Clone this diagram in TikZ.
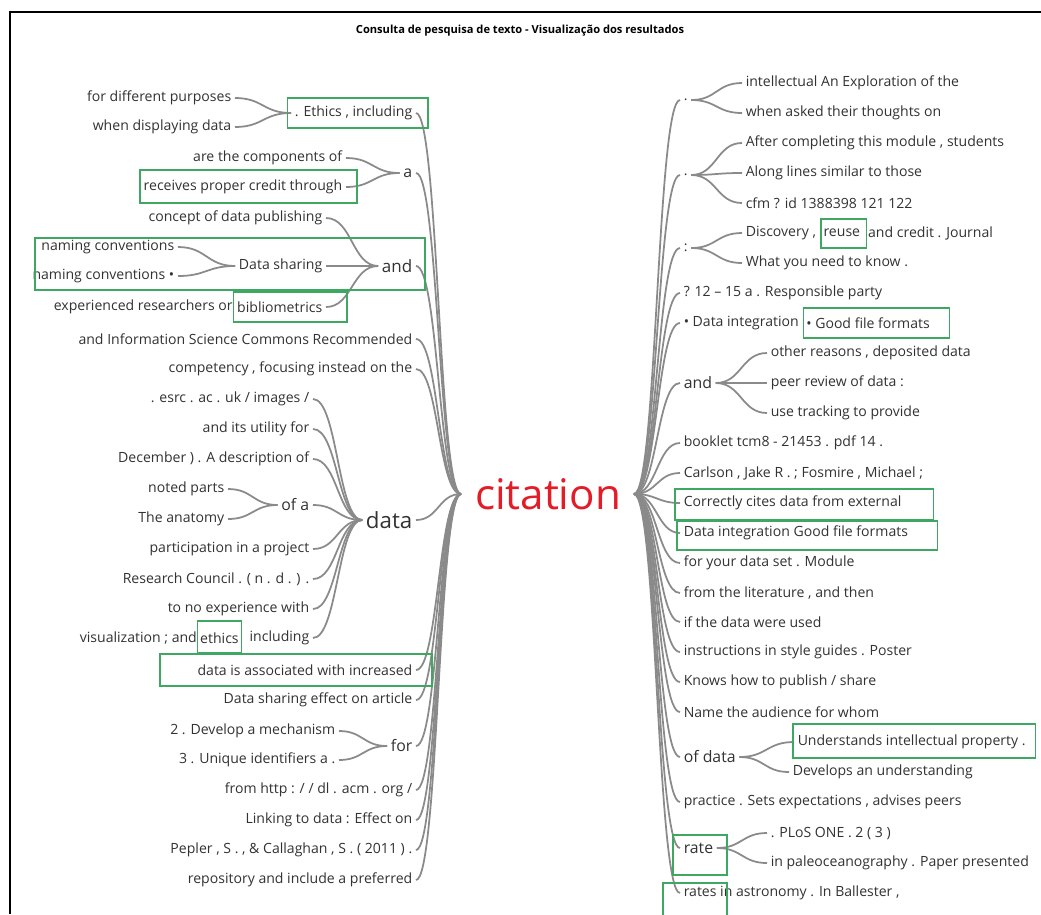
\documentclass[tikz,border=0pt]{standalone}
\usepackage{fontspec}
\setmainfont{Open Sans}
\usepackage{xcolor}
\usepackage{tikz}
\usetikzlibrary{calc, positioning}

\definecolor{hlgreen}{RGB}{62,168,98}
\definecolor{wordgray}{RGB}{50,50,50}
\definecolor{twiggray}{RGB}{138,138,138}
\definecolor{citered}{RGB}{228,28,40}

\begin{document}
\begin{tikzpicture}[x=0.03cm, y=-0.03cm,
    wl/.style={anchor=east, font=\fontsize{12}{14}\selectfont, text=wordgray, inner xsep=3pt, inner ysep=1pt},
    wr/.style={anchor=west, font=\fontsize{12}{14}\selectfont, text=wordgray, inner xsep=3pt, inner ysep=1pt},
    mid/.style={font=\fontsize{13.5}{16}\selectfont},
    twig/.style={draw=twiggray, line width=1.5pt, to path={let \p1=(\tikztostart), \p2=(\tikztotarget) in .. controls ({(\x1+\x2)/2},\y1) and ({(\x1+\x2)/2},\y2) .. (\tikztotarget)}},
    hl/.style={draw=hlgreen, line width=1pt}
]
    \useasboundingbox (0,0) rectangle (1041,914);
    \draw[line width=1.2pt] (10,914) -- (10,12) -- (1041,12);

    \node[font=\fontsize{9.5}{11}\selectfont\bfseries, text=black] (title) at (520,31) {Consulta de pesquisa de texto - Visualização dos resultados};

    % Centre word and the two hubs
    \node[font=\fontsize{36}{40}\selectfont, text=citered, inner sep=0pt] (citation) at (548,494) {citation};
    \coordinate (hubL) at (461,494);
    \coordinate (hubR) at (634,494);

    % Left side
    \node[wl] (purposes) at (235,98) {for different purposes};
    \node[wl] (displaying) at (235,127) {when displaying data};
    \node[wl] (ethicsinc) at (416,113) {. Ethics , including};
    \node[wl] (components) at (346,158) {are the components of};
    \node[wl] (credit) at (346,187) {receives proper credit through};
    \node[wl, mid] (la) at (416,173) {a};
    \node[wl] (publishing) at (326,218) {concept of data publishing};
    \node[wl] (naming1) at (178,247) {naming conventions};
    \node[wl] (sharing) at (326,266) {Data sharing};
    \node[wl] (naming2) at (178,276) {naming conventions •};
    \node[wl, font=\fontsize{14.5}{17}\selectfont] (land) at (416,266) {and};
    \node[wl] (biblio) at (326,307) {bibliometrics};
    \node[wl, inner xsep=0.5pt, left=0pt of biblio] (researchers) {experienced researchers or};
    \node[wl] (infosci) at (416,339) {and Information Science Commons Recommended};
    \node[wl] (compet) at (416,369) {competency , focusing instead on the};
    \node[wl] (esrc) at (313,399) {. esrc . ac . uk / images /};
    \node[wl] (utility) at (313,429) {and its utility for};
    \node[wl] (december) at (313,459) {December ) . A description of};
    \node[wl] (noted) at (228,489) {noted parts};
    \node[wl, mid] (ofa) at (313,505) {of a};
    \node[wl] (anatomy) at (228,519) {The anatomy};
    \node[wl, font=\fontsize{19}{22}\selectfont] (ldata) at (416,520) {data};
    \node[wl] (particip) at (313,549) {participation in a project};
    \node[wl] (council) at (313,579) {Research Council . ( n . d . ) .};
    \node[wl] (noexp) at (313,609) {to no experience with};
    \node[wl] (including) at (313,638) {including};
    \node[wl, inner xsep=2pt, left=4pt of including] (ethicsw) {ethics};
    \node[wl, inner xsep=0.5pt, left=0pt of ethicsw] (visual) {visualization ; and};
    \node[wl] (assoc) at (416,670) {data is associated with increased};
    \node[wl] (effect) at (416,700) {Data sharing effect on article};
    \node[wl] (develop) at (339,731) {2 . Develop a mechanism};
    \node[wl, mid] (lfor) at (416,746) {for};
    \node[wl] (unique) at (339,760) {3 . Unique identifiers a .};
    \node[wl] (http) at (416,790) {from http : / / dl . acm . org /};
    \node[wl] (linking) at (416,820) {Linking to data : Effect on};
    \node[wl] (pepler) at (416,850) {Pepler , S . , \& Callaghan , S . ( 2011 ) .};
    \node[wl] (repos) at (416,880) {repository and include a preferred};

    % Right side
    \node[wr] (dot1) at (680,100) {.};
    \node[wr] (explor) at (742,83) {intellectual An Exploration of the};
    \node[wr] (asked) at (742,113) {when asked their thoughts on};
    \node[wr] (dot2) at (680,175) {.};
    \node[wr] (after) at (742,143) {After completing this module , students};
    \node[wr] (along) at (742,173) {Along lines similar to those};
    \node[wr] (cfm) at (742,203) {cfm ? id 1388398 121 122};
    \node[wr] (colon) at (680,248) {:};
    \node[wr] (discov) at (742,233) {Discovery ,};
    \node[wr, inner xsep=2pt, right=1pt of discov] (reuse) {reuse};
    \node[wr, inner xsep=0.5pt, right=4pt of reuse] (journal) {and credit . Journal};
    \node[wr] (needknow) at (742,263) {What you need to know .};
    \node[wr] (party) at (680,293) {? 12 – 15 a . Responsible party};
    \node[wr] (integr) at (680,323) {• Data integration};
    \node[wr, inner xsep=2pt, right=1pt of integr] (goodfile) {• Good file formats};
    \node[wr, mid] (rand) at (680,383) {and};
    \node[wr] (reasons) at (767,353) {other reasons , deposited data};
    \node[wr] (review) at (767,383) {peer review of data :};
    \node[wr] (tracking) at (767,413) {use tracking to provide};
    \node[wr] (booklet) at (680,443) {booklet tcm8 - 21453 . pdf 14 .};
    \node[wr] (carlson) at (680,473) {Carlson , Jake R . ; Fosmire , Michael ;};
    \node[wr] (correctly) at (680,503) {Correctly cites data from external};
    \node[wr] (dataint) at (680,533) {Data integration Good file formats};
    \node[wr] (yourdata) at (680,563) {for your data set . Module};
    \node[wr] (literature) at (680,593) {from the literature , and then};
    \node[wr] (used) at (680,622) {if the data were used};
    \node[wr] (instr) at (680,652) {instructions in style guides . Poster};
    \node[wr] (knows) at (680,682) {Knows how to publish / share};
    \node[wr] (audience) at (680,712) {Name the audience for whom};
    \node[wr, mid] (ofdata) at (680,757) {of data};
    \node[wr] (underst) at (794,742) {Understands intellectual property .};
    \node[wr] (develops) at (789,772) {Develops an understanding};
    \node[wr] (practice) at (680,802) {practice . Sets expectations , advises peers};
    \node[wr, mid] (rate) at (680,848) {rate};
    \node[wr] (plos) at (767,833) {. PLoS ONE . 2 ( 3 )};
    \node[wr] (paleo) at (767,863) {in paleoceanography . Paper presented};
    \node[wr] (rates) at (680,893) {rates in astronomy . In Ballester ,};

    % Branches
    \foreach \w in {ethicsinc, la, land, infosci, compet, ldata, assoc, effect, lfor, http, linking, pepler, repos}
        \draw[twig] (hubL) to (\w.east);
    \foreach \w in {purposes, displaying} \draw[twig] (ethicsinc.west) to (\w.east);
    \foreach \w in {components, credit} \draw[twig] (la.west) to (\w.east);
    \foreach \w in {publishing, sharing, biblio} \draw[twig] (land.west) to (\w.east);
    \foreach \w in {naming1, naming2} \draw[twig] (sharing.west) to (\w.east);
    \foreach \w in {esrc, utility, december, ofa, particip, council, noexp, including} \draw[twig] (ldata.west) to (\w.east);
    \foreach \w in {noted, anatomy} \draw[twig] (ofa.west) to (\w.east);
    \foreach \w in {develop, unique} \draw[twig] (lfor.west) to (\w.east);

    \foreach \w in {dot1, dot2, colon, party, integr, rand, booklet, carlson, correctly, dataint, yourdata, literature, used, instr, knows, audience, ofdata, practice, rate, rates}
        \draw[twig] (hubR) to (\w.west);
    \foreach \w in {explor, asked} \draw[twig] (dot1.east) to (\w.west);
    \foreach \w in {after, along, cfm} \draw[twig] (dot2.east) to (\w.west);
    \foreach \w in {discov, needknow} \draw[twig] (colon.east) to (\w.west);
    \foreach \w in {reasons, review, tracking} \draw[twig] (rand.east) to (\w.west);
    \foreach \w in {underst, develops} \draw[twig] (ofdata.east) to (\w.west);
    \foreach \w in {plos, paleo} \draw[twig] (rate.east) to (\w.west);

    % Green highlight boxes
    \draw[hl] ($(ethicsinc.west |- 0,98)+(-4,0)$) rectangle (428,128);
    \draw[hl] (credit.west |- 0,170) rectangle (357,203);
    \draw[hl] (35,238) rectangle (425,290);
    \draw[hl] (biblio.west |- 0,292) rectangle (347,322);
    \draw[hl] (ethicsw.west |- 0,621) rectangle (ethicsw.east |- 0,653);
    \draw[hl] (160,654) rectangle (432,686);
    \draw[hl] (reuse.west |- 0,219) rectangle ($(reuse.east |- 0,248)+(4,0)$);
    \draw[hl] (goodfile.west |- 0,308) rectangle ($(goodfile.east |- 0,338)+(17,0)$);
    \draw[hl] (675,489) rectangle ($(correctly.east |- 0,520)+(28,0)$);
    \draw[hl] (677,521) rectangle ($(dataint.east |- 0,550)+(26,0)$);
    \draw[hl] (793,724) rectangle ($(underst.east |- 0,758)+(6,0)$);
    \draw[hl] (673,835) rectangle (727,875);
    \draw[hl] (663,883) rectangle (727,916);
\end{tikzpicture}
\end{document}
